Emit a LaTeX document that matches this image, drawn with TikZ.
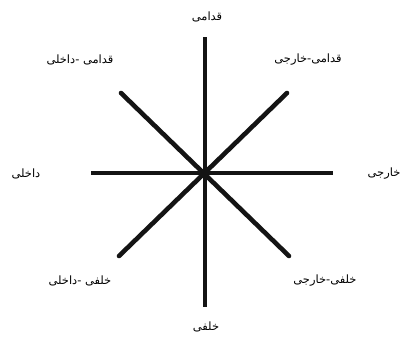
\documentclass[tikz,border=0pt]{standalone}
\usepackage{fontspec}
\newfontfamily\arabicfont[Script=Arabic]{DejaVu Sans}
\TeXXeTstate=1
\begin{document}
\begin{tikzpicture}[x=1bp,y=-1bp,
  axis/.style={line width=4.6bp, draw=black!92},
  diag/.style={axis, line cap=round},
  lbl/.style={font=\arabicfont\fontsize{11.5}{13}\selectfont, inner sep=0pt, text=black}]
\useasboundingbox (0,0) rectangle (405,340);
\coordinate (c) at (205,173);
\coordinate (n) at (205,37);
\coordinate (s) at (205,307);
\coordinate (w) at (91,173);
\coordinate (e) at (333,173);
\coordinate (nw) at (121,93);
\coordinate (ne) at (287,93);
\coordinate (sw) at (119,256);
\coordinate (se) at (289,256);
\draw[axis] (n) -- (s);
\draw[axis] (w) -- (e);
\draw[diag] (nw) -- (se);
\draw[diag] (ne) -- (sw);
\node[lbl] (tN) at (207,17) {\beginR قدامی\endR};
\node[lbl] (tNE) at (308,60) {\beginR قدامی-خارجی\endR};
\node[lbl] (tNW) at (80,60) {\beginR قدامی -داخلی\endR};
\node[lbl] (tW) at (26,174) {\beginR داخلی\endR};
\node[lbl] (tE) at (384,174) {\beginR خارجی\endR};
\node[lbl] (tSW) at (80,281) {\beginR خلفی -داخلی\endR};
\node[lbl] (tSE) at (325,281) {\beginR خلفی-خارجی\endR};
\node[lbl] (tS) at (206,327) {\beginR خلفی\endR};
\end{tikzpicture}
\end{document}
